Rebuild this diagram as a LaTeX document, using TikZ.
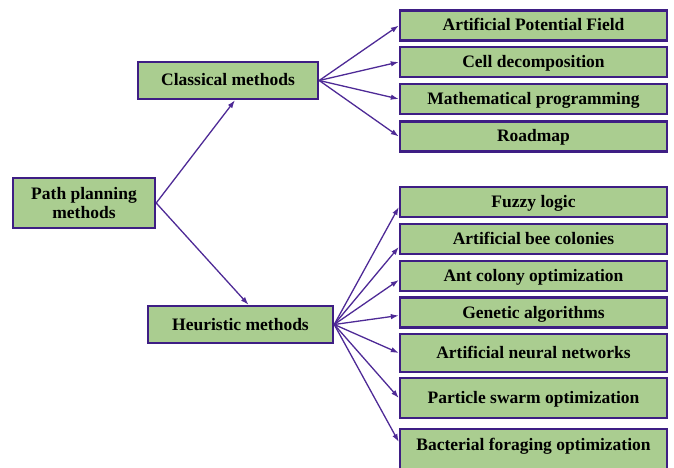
\documentclass[tikz,border=0pt]{standalone}
\usepackage{fontspec}
\setmainfont{Liberation Serif}
\usepackage{tikz}
\usetikzlibrary{positioning, arrows.meta}
\definecolor{boxfill}{RGB}{170,205,144}
\definecolor{boxline}{RGB}{62,30,132}
\definecolor{arrline}{RGB}{78,42,150}

\begin{document}
\begin{tikzpicture}[x=1pt, y=-1pt,
		box/.style={rectangle, draw=boxline, fill=boxfill, line width=2.4pt, inner sep=3pt, font=\fontsize{17.5}{19.5}\selectfont\bfseries, align=center},
		root/.style={box, minimum width=142pt, minimum height=50pt},
		group/.style={box, minimum height=37pt, text height=14pt, text depth=3pt},
		leaf/.style={box, minimum width=267pt, minimum height=30pt, text height=14pt, text depth=3pt},
		>={Latex[length=8pt, width=5.5pt]}
		]
		\useasboundingbox (0,0) rectangle (674,468);
		\node[root] (pp) at (84, 203) {Path planning\\methods};
		\node[group, minimum width=180pt] (cm) at (228, 80.5) {Classical methods};
		\node[group, minimum width=185pt] (hm) at (240.5, 324.5) {Heuristic methods};
		
		\node[leaf] (c1) at (533.5, 25.5) {Artificial Potential Field};
		\node[leaf] (c2) at (533.5, 62) {Cell decomposition};
		\node[leaf] (c3) at (533.5, 99) {Mathematical programming};
		\node[leaf] (c4) at (533.5, 136.5) {Roadmap};
		
		\node[leaf] (h1) at (533.5, 202) {Fuzzy logic};
		\node[leaf] (h2) at (533.5, 239) {Artificial bee colonies};
		\node[leaf] (h3) at (533.5, 276) {Ant colony optimization};
		\node[leaf] (h4) at (533.5, 312.5) {Genetic algorithms};
		\node[leaf, minimum height=38pt] (h5) at (533.5, 353) {Artificial neural networks};
		\node[leaf, minimum height=40pt] (h6) at (533.5, 398) {Particle swarm optimization};
		\node[leaf, anchor=north, text height=18pt, text depth=30pt] (h7) at (533.5, 428) {Bacterial foraging optimization};
		
		\draw[->, arrline, line width=1.3pt] (pp.east) to ([xshift=7pt]cm.south);
		\draw[->, arrline, line width=1.3pt] (pp.east) to ([xshift=8pt]hm.north);
		
		\draw[->, arrline, line width=1.3pt] (cm.east) to (c1.west);
		\draw[->, arrline, line width=1.3pt] (cm.east) to (c2.west);
		\draw[->, arrline, line width=1.3pt] (cm.east) to (c3.west);
		\draw[->, arrline, line width=1.3pt] (cm.east) to (c4.west);
		
		\draw[->, arrline, line width=1.3pt] (hm.east) to ([yshift=-5pt]h1.west);
		\draw[->, arrline, line width=1.3pt] (hm.east) to ([yshift=-8pt]h2.west);
		\draw[->, arrline, line width=1.3pt] (hm.east) to ([yshift=-4pt]h3.west);
		\draw[->, arrline, line width=1.3pt] (hm.east) to ([yshift=-3pt]h4.west);
		\draw[->, arrline, line width=1.3pt] (hm.east) to (h5.west);
		\draw[->, arrline, line width=1.3pt] (hm.east) to (h6.west);
		\draw[->, arrline, line width=1.3pt] (hm.east) to ([yshift=-14pt]h7.north west);
		
		\end{tikzpicture}
\end{document}
